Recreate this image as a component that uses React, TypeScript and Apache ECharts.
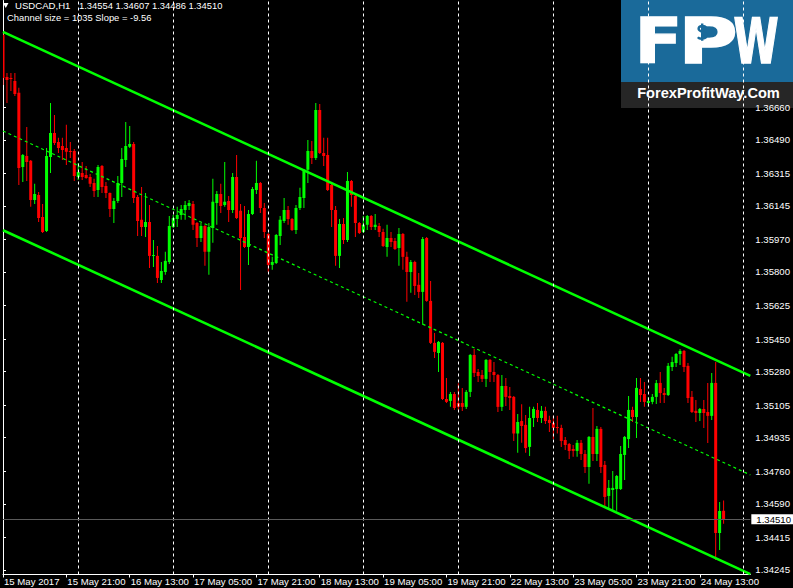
import React, { useEffect, useRef } from "react";
import * as echarts from "echarts";

// ---- Data (USDCAD H1, bar 0 = 15 May 2017 05:00) ----
const opens = [
  1.37037, 1.36818, 1.36813, 1.36797, 1.36735, 1.36348, 1.36406, 1.36380, 1.36176, 1.36202,
  1.36087, 1.36014, 1.36400, 1.36526, 1.36479, 1.36458, 1.36447, 1.36432, 1.36432, 1.36296,
  1.36317, 1.36306, 1.36296, 1.36265, 1.36228, 1.36353, 1.36249, 1.36212, 1.36129, 1.36171,
  1.36265, 1.36385, 1.36453, 1.36468, 1.36192, 1.36072, 1.36035, 1.36061, 1.35884, 1.35884,
  1.35758, 1.35800, 1.35852, 1.36035, 1.36077, 1.36098, 1.36124, 1.36145, 1.36155, 1.36056,
  1.35978, 1.36040, 1.35905, 1.36030, 1.36160, 1.36207, 1.36150, 1.36171, 1.36124, 1.36296,
  1.36119, 1.35983, 1.35931, 1.36103, 1.36228, 1.36265, 1.36134, 1.35998, 1.35837, 1.35847,
  1.35988, 1.36066, 1.36124, 1.36077, 1.36019, 1.36134, 1.36186, 1.36333, 1.36432, 1.36395,
  1.36646, 1.36421, 1.36411, 1.36254, 1.36124, 1.35884, 1.36051, 1.35967, 1.36275, 1.36197,
  1.36056, 1.36009, 1.36046, 1.36092, 1.36035, 1.36040, 1.36009, 1.35931, 1.35978, 1.35962,
  1.35925, 1.35998, 1.35879, 1.35800, 1.35852, 1.35733, 1.35696, 1.35978, 1.35649, 1.35430,
  1.35377, 1.35430, 1.35137, 1.35127, 1.35163, 1.35116, 1.35116, 1.35096, 1.35174, 1.35367,
  1.35278, 1.35262, 1.35242, 1.35341, 1.35278, 1.35262, 1.35096, 1.35205, 1.35153, 1.35148,
  1.34957, 1.35022, 1.35002, 1.34887, 1.35038, 1.35080, 1.35038, 1.35075, 1.35028, 1.35012,
  1.34991, 1.34986, 1.34923, 1.34902, 1.34876, 1.34866, 1.34908, 1.34850, 1.34782, 1.34939,
  1.34850, 1.34981, 1.34793, 1.34631, 1.34662, 1.34667, 1.34667, 1.34845, 1.34928, 1.35080,
  1.35043, 1.35189, 1.35163, 1.35116, 1.35122, 1.35148, 1.35221, 1.35168, 1.35158, 1.35304,
  1.35325, 1.35372, 1.35388, 1.35310, 1.35148, 1.35075, 1.35064, 1.35085, 1.35069, 1.35049,
  1.35221, 1.34437, 1.34554,
];
const highs = [
  1.37048, 1.36839, 1.36839, 1.36839, 1.36761, 1.36416, 1.36557, 1.36385, 1.36260, 1.36218,
  1.36155, 1.36447, 1.36682, 1.36620, 1.36500, 1.36500, 1.36568, 1.36479, 1.36442, 1.36369,
  1.36374, 1.36353, 1.36312, 1.36286, 1.36359, 1.36359, 1.36270, 1.36215, 1.36186, 1.36301,
  1.36447, 1.36583, 1.36562, 1.36479, 1.36202, 1.36244, 1.36212, 1.36150, 1.35967, 1.35936,
  1.35852, 1.35905, 1.36092, 1.36098, 1.36140, 1.36150, 1.36171, 1.36176, 1.36171, 1.36061,
  1.36056, 1.36046, 1.36056, 1.36286, 1.36223, 1.36260, 1.36374, 1.36197, 1.36317, 1.36411,
  1.36155, 1.36145, 1.36124, 1.36244, 1.36380, 1.36270, 1.36160, 1.36004, 1.35879, 1.35998,
  1.36092, 1.36186, 1.36145, 1.36082, 1.36150, 1.36239, 1.36338, 1.36489, 1.36484, 1.36682,
  1.36677, 1.36500, 1.36500, 1.36260, 1.36145, 1.36077, 1.36082, 1.36322, 1.36280, 1.36202,
  1.36061, 1.36092, 1.36098, 1.36098, 1.36103, 1.36056, 1.36025, 1.36046, 1.36009, 1.35978,
  1.36030, 1.36004, 1.35905, 1.35863, 1.35858, 1.35795, 1.35983, 1.35983, 1.35753, 1.35482,
  1.35440, 1.35435, 1.35247, 1.35174, 1.35174, 1.35219, 1.35195, 1.35184, 1.35372, 1.35398,
  1.35293, 1.35289, 1.35346, 1.35346, 1.35330, 1.35268, 1.35262, 1.35247, 1.35200, 1.35153,
  1.35059, 1.35109, 1.35053, 1.35096, 1.35096, 1.35116, 1.35101, 1.35096, 1.35049, 1.35049,
  1.35049, 1.35002, 1.34939, 1.34908, 1.34897, 1.34923, 1.34923, 1.34871, 1.34944, 1.35090,
  1.34996, 1.34991, 1.34814, 1.34714, 1.34761, 1.34740, 1.34892, 1.34944, 1.35153, 1.35096,
  1.35247, 1.35247, 1.35226, 1.35148, 1.35163, 1.35236, 1.35278, 1.35195, 1.35325, 1.35357,
  1.35377, 1.35398, 1.35393, 1.35325, 1.35179, 1.35132, 1.35090, 1.35132, 1.35221, 1.35273,
  1.35330, 1.34600, 1.34607,
];
const lows = [
  1.36776, 1.36682, 1.36745, 1.36719, 1.36254, 1.36270, 1.36275, 1.36140, 1.36155, 1.36061,
  1.36004, 1.36009, 1.36317, 1.36463, 1.36421, 1.36385, 1.36359, 1.36395, 1.36275, 1.36280,
  1.36280, 1.36286, 1.36244, 1.36192, 1.36192, 1.36212, 1.36186, 1.36087, 1.36056, 1.36160,
  1.36192, 1.36348, 1.36447, 1.36160, 1.35988, 1.35988, 1.35983, 1.35821, 1.35826, 1.35743,
  1.35743, 1.35785, 1.35842, 1.36030, 1.36035, 1.36072, 1.36072, 1.36124, 1.36019, 1.35931,
  1.35957, 1.35832, 1.35785, 1.35952, 1.36046, 1.36108, 1.36140, 1.36061, 1.36108, 1.36077,
  1.35706, 1.35925, 1.35837, 1.36098, 1.36207, 1.36108, 1.35978, 1.35800, 1.35811, 1.35842,
  1.35941, 1.36056, 1.36046, 1.36014, 1.35998, 1.36124, 1.36134, 1.36265, 1.36364, 1.36385,
  1.36416, 1.36353, 1.36223, 1.36035, 1.35832, 1.35821, 1.35946, 1.35957, 1.36140, 1.35983,
  1.35998, 1.36004, 1.36019, 1.36019, 1.36019, 1.35983, 1.35931, 1.35879, 1.35931, 1.35915,
  1.35832, 1.35811, 1.35644, 1.35691, 1.35680, 1.35664, 1.35524, 1.35644, 1.35424, 1.35351,
  1.35278, 1.35132, 1.35116, 1.35096, 1.35080, 1.35080, 1.35075, 1.35085, 1.35148, 1.35252,
  1.35226, 1.35226, 1.35200, 1.35226, 1.35226, 1.35069, 1.35075, 1.35101, 1.35080, 1.34918,
  1.34856, 1.34909, 1.34856, 1.34840, 1.34991, 1.35017, 1.35012, 1.35007, 1.34965, 1.34928,
  1.34957, 1.34887, 1.34871, 1.34824, 1.34835, 1.34835, 1.34819, 1.34751, 1.34695, 1.34814,
  1.34814, 1.34751, 1.34570, 1.34565, 1.34554, 1.34554, 1.34662, 1.34714, 1.34881, 1.35017,
  1.34934, 1.35122, 1.35096, 1.35096, 1.35109, 1.35111, 1.35116, 1.35116, 1.35153, 1.35283,
  1.35304, 1.35315, 1.35278, 1.35116, 1.35064, 1.35017, 1.35022, 1.34986, 1.34908, 1.35028,
  1.34297, 1.34349, 1.34486,
];
const closes = [
  1.36813, 1.36802, 1.36808, 1.36729, 1.36343, 1.36411, 1.36374, 1.36176, 1.36207, 1.36082,
  1.36009, 1.36406, 1.36526, 1.36473, 1.36447, 1.36437, 1.36427, 1.36427, 1.36301, 1.36322,
  1.36296, 1.36291, 1.36260, 1.36223, 1.36348, 1.36244, 1.36212, 1.36129, 1.36171, 1.36265,
  1.36390, 1.36458, 1.36468, 1.36186, 1.36066, 1.36035, 1.36061, 1.35884, 1.35889, 1.35769,
  1.35805, 1.35858, 1.36040, 1.36082, 1.36098, 1.36129, 1.36150, 1.36160, 1.36046, 1.35978,
  1.36040, 1.35905, 1.36035, 1.36166, 1.36207, 1.36145, 1.36166, 1.36124, 1.36296, 1.36082,
  1.35978, 1.35931, 1.36103, 1.36233, 1.36265, 1.36134, 1.36009, 1.35837, 1.35852, 1.35993,
  1.36072, 1.36124, 1.36077, 1.36019, 1.36134, 1.36192, 1.36333, 1.36432, 1.36395, 1.36646,
  1.36421, 1.36406, 1.36228, 1.36124, 1.35884, 1.36051, 1.35967, 1.36275, 1.36202, 1.36056,
  1.36004, 1.36046, 1.36092, 1.36035, 1.36046, 1.36009, 1.35936, 1.35978, 1.35957, 1.35920,
  1.35998, 1.35879, 1.35800, 1.35852, 1.35727, 1.35696, 1.35972, 1.35649, 1.35430, 1.35383,
  1.35435, 1.35137, 1.35122, 1.35163, 1.35090, 1.35096, 1.35096, 1.35174, 1.35367, 1.35273,
  1.35257, 1.35242, 1.35341, 1.35278, 1.35262, 1.35096, 1.35205, 1.35148, 1.35142, 1.34957,
  1.35017, 1.34996, 1.34881, 1.35038, 1.35085, 1.35038, 1.35075, 1.35022, 1.35012, 1.34986,
  1.34986, 1.34918, 1.34897, 1.34866, 1.34866, 1.34908, 1.34850, 1.34782, 1.34939, 1.34850,
  1.34981, 1.34782, 1.34626, 1.34673, 1.34673, 1.34735, 1.34850, 1.34939, 1.35080, 1.35043,
  1.35195, 1.35158, 1.35122, 1.35127, 1.35148, 1.35220, 1.35168, 1.35158, 1.35310, 1.35330,
  1.35372, 1.35388, 1.35304, 1.35142, 1.35069, 1.35064, 1.35085, 1.35064, 1.35049, 1.35221,
  1.34437, 1.34553, 1.34510,
];

const xTickIdx = [0, 16, 32, 48, 64, 80, 96, 112, 128, 144, 160, 176];
const xTickLabels = [
  "15 May 2017", "15 May 21:00", "16 May 13:00", "17 May 05:00", "17 May 21:00", "18 May 13:00",
  "19 May 05:00", "19 May 21:00", "22 May 13:00", "23 May 05:00", "23 May 21:00", "24 May 13:00",
];
const yTickValues = [
  1.3666, 1.3649, 1.36315, 1.36145, 1.3597, 1.358, 1.35625, 1.3545, 1.3528, 1.35105,
  1.34935, 1.3476, 1.3459, 1.34415, 1.34245,
];
const daySeparatorIdx = [19, 43, 67, 91, 115, 139, 163, 187];

const channelX = [0, 188.75];
const upperLine = [1.37053, 1.35258];
const middleLine = [1.36536, 1.34741];
const lowerLine = [1.36018, 1.34223];

const bidPrice = 1.3451;
const headerSymbol = "USDCAD,H1";
const headerOHLC = "1.34554 1.34607 1.34486 1.34510";
const headerChannel = "Channel size = 1035 Slope = -9.56";

const X_MIN = 0;
const X_MAX = 188.75;
const Y_MIN = 1.34221;
const Y_MAX = 1.37217;

const BULL = "#00ff00";
const BEAR = "#ff0000";
const LIME = "#00ff00";
const FONT = "Liberation Sans";
const LOGO_BLUE = "#1a6a9a";

// dollar sign outline for the logo (drawn as a shape, not text)
const DOLLAR_D =
  "M9 3.2 C7.6 1.4 1.6 1.2 1.6 4.8 C1.6 8.2 9.4 7.6 9.4 11.6 C9.4 15.4 2.6 15.4 0.8 13.2 M5.2 -0.6 L5.2 16.8";

export default function App() {
  const ref = useRef<HTMLDivElement>(null);

  useEffect(() => {
    if (!ref.current) return;
    try {
      echarts.graphic.registerShape("fpwDollar", echarts.graphic.extendPath(DOLLAR_D, {}) as any);
    } catch (e) {
      /* already registered */
    }
    const chart = echarts.init(ref.current, null, { renderer: "svg" });

    const candleData = opens.map((o, i) => [i, o, closes[i], lows[i], highs[i]]);
    const pts = (arr: number[]) => channelX.map((x, k) => [x, arr[k]]);

    const option: any = {
      animation: false,
      backgroundColor: "#000000",
      textStyle: { fontFamily: FONT },
      grid: { left: 0.5, top: 0.5, width: 755, height: 574, containLabel: false },
      xAxis: {
        type: "value",
        min: X_MIN,
        max: X_MAX,
        interval: 16,
        axisLine: { show: true, lineStyle: { color: "#ffffff", width: 1 } },
        axisTick: { show: true, length: 3, lineStyle: { color: "#ffffff" }, customValues: xTickIdx },
        axisLabel: {
          customValues: xTickIdx,
          formatter: (v: number) => {
            const k = xTickIdx.indexOf(Math.round(v));
            return k >= 0 ? xTickLabels[k] : "";
          },
          color: "#ffffff",
          fontFamily: FONT,
          fontSize: 9.6,
          align: "left",
          margin: 2,
          lineHeight: 10,
          padding: [0, 0, 0, 1],
          showMinLabel: true,
          showMaxLabel: true,
          hideOverlap: false,
        },
        splitLine: { show: false },
      },
      yAxis: {
        type: "value",
        position: "right",
        min: Y_MIN,
        max: Y_MAX,
        axisLine: { show: true, lineStyle: { color: "#ffffff", width: 1 } },
        axisTick: { show: true, length: 3, lineStyle: { color: "#ffffff" }, customValues: yTickValues },
        axisLabel: {
          customValues: yTickValues,
          formatter: (v: number) => v.toFixed(5),
          color: "#ffffff",
          fontFamily: FONT,
          fontSize: 9.6,
          margin: 5,
          showMinLabel: true,
          showMaxLabel: true,
        },
        splitLine: { show: false },
      },
      series: [
        {
          name: "separators",
          type: "line",
          z: 1,
          silent: true,
          symbol: "none",
          data: [[0, upperLine[0]]],
          lineStyle: { opacity: 0 },
          markLine: {
            silent: true,
            precision: 5,
            symbol: ["none", "none"],
            label: { show: false },
            lineStyle: { color: "#ffffff", type: [3, 3], width: 1, opacity: 1 },
            data: daySeparatorIdx.map((i) => ({ xAxis: i })),
          },
        },
        {
          name: "bid",
          type: "line",
          z: 1,
          silent: true,
          symbol: "none",
          data: [[0, bidPrice]],
          lineStyle: { opacity: 0 },
          markLine: {
            silent: true,
            precision: 5,
            symbol: ["none", "none"],
            lineStyle: { color: "#5a5a5a", type: "solid", width: 1, opacity: 1 },
            label: {
              show: true,
              position: "end",
              distance: 1,
              formatter: () => bidPrice.toFixed(5),
              color: "#000000",
              backgroundColor: "#ffffff",
              fontFamily: FONT,
              fontSize: 9.6,
              lineHeight: 10,
              padding: [0, 6, 0, 5],
            },
            data: [{ yAxis: bidPrice }],
          },
        },
        {
          name: "USDCAD",
          type: "custom",
          z: 2,
          clip: true,
          silent: true,
          data: candleData,
          encode: { x: 0, y: [1, 2, 3, 4] },
          renderItem: (params: any, api: any) => {
            const x = api.value(0);
            const o = api.value(1);
            const c = api.value(2);
            const l = api.value(3);
            const h = api.value(4);
            const pO = api.coord([x, o]);
            const pC = api.coord([x, c]);
            const pL = api.coord([x, l]);
            const pH = api.coord([x, h]);
            const cx = pO[0];
            const color = c >= o ? BULL : BEAR;
            const top = Math.min(pO[1], pC[1]);
            const bot = Math.max(pO[1], pC[1]);
            return {
              type: "group",
              children: [
                {
                  type: "rect",
                  shape: { x: cx - 0.5, y: pH[1], width: 1, height: Math.max(pL[1] - pH[1], 1) },
                  style: { fill: color },
                },
                {
                  type: "rect",
                  shape: { x: cx - 1.5, y: top, width: 3, height: Math.max(bot - top, 1) },
                  style: { fill: color },
                },
              ],
            };
          },
        },
        {
          name: "upper",
          type: "line",
          z: 3,
          silent: true,
          symbol: "none",
          data: pts(upperLine),
          lineStyle: { color: LIME, width: 2.6 },
        },
        {
          name: "middle",
          type: "line",
          z: 3,
          silent: true,
          symbol: "none",
          data: pts(middleLine),
          lineStyle: { color: LIME, width: 1.2, type: [3, 3] },
        },
        {
          name: "lower",
          type: "line",
          z: 3,
          silent: true,
          symbol: "none",
          data: pts(lowerLine),
          lineStyle: { color: LIME, width: 2.6 },
        },
      ],
      graphic: [
        {
          type: "polygon",
          z: 50,
          shape: { points: [[3, 3], [8.5, 3], [5.75, 8]] },
          style: { fill: "#ffffff" },
        },
        {
          type: "text",
          z: 50,
          x: 15,
          y: 5.5,
          style: { text: headerSymbol, fill: "#ffffff", fontFamily: FONT, fontSize: 9.6, verticalAlign: "middle" },
        },
        {
          type: "text",
          z: 50,
          x: 79,
          y: 5.5,
          style: { text: headerOHLC, fill: "#ffffff", fontFamily: FONT, fontSize: 9.4, verticalAlign: "middle" },
        },
        {
          type: "text",
          z: 50,
          x: 7,
          y: 17,
          style: { text: headerChannel, fill: "#ffffff", fontFamily: FONT, fontSize: 9.4, verticalAlign: "middle" },
        },
        {
          type: "group",
          z: 100,
          children: [
            { type: "rect", shape: { x: 621, y: 0, width: 172, height: 82 }, style: { fill: LOGO_BLUE } },
            { type: "rect", shape: { x: 621, y: 82, width: 172, height: 26 }, style: { fill: "#262626" } },
            {
              type: "text",
              x: 658.5,
              y: 41,
              scaleX: 1.12,
              style: {
                text: "F", fill: "#ffffff", stroke: "#ffffff", lineWidth: 1.5,
                fontFamily: "DejaVu Sans", fontWeight: "bold", fontSize: 62, align: "center", verticalAlign: "middle",
              },
            },
            {
              type: "text",
              x: 708,
              y: 41,
              scaleX: 1.3,
              style: {
                text: "P", fill: "#ffffff", stroke: "#ffffff", lineWidth: 1.5,
                fontFamily: "DejaVu Sans", fontWeight: "bold", fontSize: 62, align: "center", verticalAlign: "middle",
              },
            },
            {
              type: "text",
              x: 756,
              y: 41,
              scaleX: 0.66,
              style: {
                text: "W", fill: "#ffffff", stroke: "#ffffff", lineWidth: 1.5,
                fontFamily: "DejaVu Sans", fontWeight: "bold", fontSize: 62, align: "center", verticalAlign: "middle",
              },
            },
            {
              type: "fpwDollar",
              x: 697,
              y: 24,
              scaleX: 1,
              scaleY: 1,
              style: { fill: "none", stroke: LOGO_BLUE, lineWidth: 2.4 },
            },
            {
              type: "text",
              x: 708.5,
              y: 93,
              style: {
                text: "ForexProfitWay.Com", fill: "#ffffff", fontFamily: FONT, fontWeight: "bold",
                fontSize: 14.6, align: "center", verticalAlign: "middle",
              },
            },
          ],
        },
      ],
    };

    chart.setOption(option);
    return () => chart.dispose();
  }, []);

  return (
    <div
      ref={ref}
      style={{ position: "absolute", left: 0, top: 0, width: 793, height: 588, background: "#000000" }}
    />
  );
}
